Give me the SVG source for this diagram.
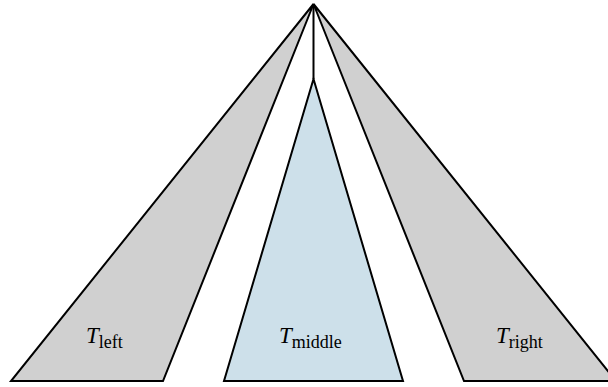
<svg xmlns="http://www.w3.org/2000/svg" width="608" height="387" viewBox="0 0 608 387">
<style>
.s{stroke:#000;stroke-width:2;stroke-linejoin:miter}
.g{fill:#d0d0d0}
.b{fill:#cde0ea}
.t{font-family:"Liberation Serif",serif;font-size:23px;fill:#000}
.i{font-style:italic}
.sub{font-size:18px}
</style>
<rect width="608" height="387" fill="#fff"/>
<g id="left">
<polygon class="s g" points="313.5,4 11,381 163,381"/>
<text class="t" x="86" y="343"><tspan class="i">T</tspan><tspan class="sub" dy="5">left</tspan></text>
</g>
<g id="middle">
<polygon class="s b" points="313.5,79 224,381 403,381"/>
<text class="t" x="279" y="343"><tspan class="i">T</tspan><tspan class="sub" dy="5">middle</tspan></text>
</g>
<g id="right">
<polygon class="s g" points="313.5,4 616,381 464,381"/>
<text class="t" x="496" y="343"><tspan class="i">T</tspan><tspan class="sub" dy="5">right</tspan></text>
</g>
<g id="connectors">
<line class="s" x1="313.5" y1="4" x2="313.5" y2="79"/>
</g>
</svg>
